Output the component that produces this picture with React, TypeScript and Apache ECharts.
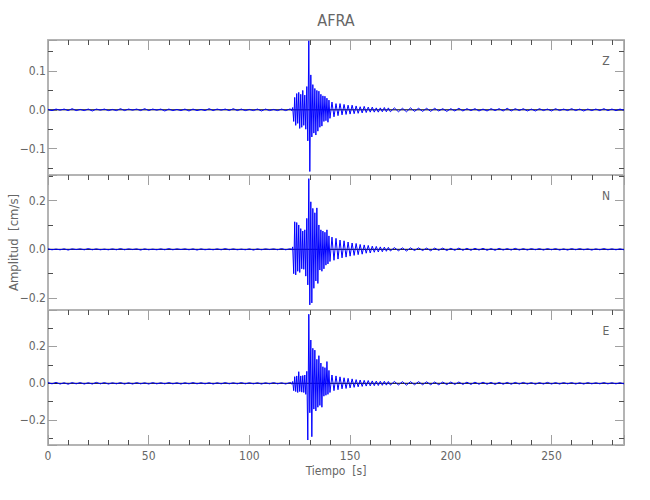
import React, { useEffect, useRef } from 'react';
import * as echarts from 'echarts';

// ---- sample times (s) ----
const T_PRE = [0,2,4,6,8,10,12,14,16,18,20,22,24,26,28,30,32,34,36,38,40,42,44,46,48,50,52,54,56,58,60,62,64,66,68,70,72,74,76,78,80,82,84,86,88,90,92,94,96,98,100,102,104,106,108,110,112,114,116,118,120];
const T_ACT = [120.5,121,121.5,122,122.5,123,123.5,124,124.5,125,125.5,126,126.5,127,127.5,128,128.5,129,129.5,130,130.5,131,131.5,132,132.5,133,133.5,134,134.5,135,135.5,136,136.5,137,137.5,138,138.5,139,139.5,140];
const T_MID = [141,142,143,144,145,146,147,148,149,150,151,152,153,154,155,156,157,158,159,160,161,162,163,164,165,166,167,168,169,170];
const T_LATE = [172,174,176,178,180,182,184,186,188,190,192,194,196,198,200,202,204,206,208,210,212,214,216,218,220,222,224,226,228,230,232,234,236,238,240,242,244,246,248,250,252,254,256,258,260,262,264,266,268,270,272,274,276,278,280,282,284,286];

// ---- Z component (cm/s) ----
const Z_PRE = [0.001,-0.002,0.002,-0.001,0.002,-0.002,0.003,-0.002,0.001,-0.002,0.002,-0.003,0.002,-0.001,0.002,-0.002,0.001,-0.002,0.003,-0.002,0.002,-0.001,0.002,-0.002,0.003,-0.002,0.002,-0.001,0.002,-0.003,0.002,-0.002,0.001,-0.002,0.002,-0.003,0.002,-0.002,0.001,-0.002,0.003,-0.002,0.002,-0.001,0.002,-0.002,0.003,-0.002,0.002,-0.002,0.001,-0.002,0.002,-0.003,0.002,-0.002,0.001,-0.002,0.002,-0.002,0.002];
const Z_ACT = [0.002,-0.002,0.006,-0.030,0.032,-0.040,0.042,-0.035,0.045,-0.048,0.040,-0.045,0.050,-0.040,0.038,-0.050,0.060,-0.080,0.178,-0.159,0.090,-0.070,0.065,-0.060,0.055,-0.065,0.050,-0.055,0.048,-0.045,0.040,-0.042,0.036,-0.030,0.035,-0.028,0.030,-0.032,0.025,-0.022];
const Z_MID = [0.020,-0.018,0.016,-0.015,0.016,-0.013,0.014,-0.012,0.012,-0.011,0.012,-0.010,0.010,-0.009,0.008,-0.008,0.009,-0.007,0.007,-0.006,0.007,-0.006,0.005,-0.006,0.005,-0.005,0.006,-0.005,0.005,-0.005];
const Z_LATE = [0.005,-0.005,0.004,-0.005,0.005,-0.004,0.004,-0.004,0.004,-0.004,0.004,-0.003,0.003,-0.004,0.003,-0.003,0.004,-0.003,0.003,-0.002,0.003,-0.003,0.002,-0.003,0.003,-0.002,0.003,-0.003,0.004,-0.003,0.003,-0.002,0.003,-0.003,0.002,-0.003,0.003,-0.002,0.002,-0.003,0.003,-0.002,0.002,-0.002,0.003,-0.002,0.002,-0.003,0.002,-0.002,0.002,-0.002,0.003,-0.002,0.002,-0.002,0.002,-0.001];

// ---- N component (cm/s) ----
const N_PRE = [0.002,-0.002,0.001,-0.002,0.002,-0.003,0.002,-0.001,0.002,-0.002,0.003,-0.002,0.002,-0.002,0.001,-0.002,0.002,-0.002,0.003,-0.002,0.002,-0.001,0.002,-0.003,0.002,-0.002,0.001,-0.002,0.002,-0.002,0.003,-0.002,0.002,-0.001,0.002,-0.002,0.002,-0.003,0.002,-0.002,0.001,-0.002,0.002,-0.002,0.003,-0.002,0.002,-0.002,0.001,-0.002,0.002,-0.003,0.002,-0.002,0.002,-0.001,0.002,-0.002,0.003,-0.002,0.002];
const N_ACT = [0.002,-0.003,0.010,-0.100,0.113,-0.105,0.110,-0.090,0.100,-0.095,0.085,-0.080,0.075,-0.082,0.080,-0.110,0.127,-0.146,0.290,-0.228,0.195,-0.220,0.168,-0.160,0.150,-0.130,0.170,-0.140,0.100,-0.085,0.080,-0.090,0.075,-0.080,0.070,-0.065,0.080,-0.060,0.055,-0.050];
const N_MID = [0.050,-0.045,0.045,-0.040,0.038,-0.035,0.035,-0.032,0.030,-0.028,0.026,-0.025,0.024,-0.022,0.020,-0.020,0.018,-0.016,0.016,-0.015,0.013,-0.012,0.012,-0.011,0.010,-0.010,0.009,-0.008,0.008,-0.007];
const N_LATE = [0.007,-0.006,0.006,-0.007,0.006,-0.005,0.006,-0.005,0.005,-0.006,0.005,-0.004,0.005,-0.005,0.004,-0.004,0.005,-0.004,0.004,-0.004,0.004,-0.003,0.004,-0.004,0.003,-0.004,0.004,-0.003,0.003,-0.003,0.004,-0.003,0.003,-0.003,0.003,-0.002,0.003,-0.003,0.003,-0.002,0.003,-0.003,0.002,-0.003,0.003,-0.002,0.003,-0.002,0.002,-0.003,0.002,-0.002,0.003,-0.002,0.002,-0.002,0.002,-0.002];

// ---- E component (cm/s) ----
const E_PRE = [0.004,-0.003,0.005,-0.004,0.003,-0.005,0.004,-0.003,0.004,-0.004,0.003,-0.004,0.005,-0.003,0.004,-0.004,0.003,-0.003,0.004,-0.004,0.003,-0.004,0.004,-0.003,0.003,-0.004,0.004,-0.003,0.003,-0.003,0.004,-0.003,0.003,-0.004,0.003,-0.003,0.004,-0.003,0.003,-0.003,0.003,-0.004,0.003,-0.003,0.004,-0.003,0.003,-0.003,0.004,-0.003,0.003,-0.003,0.003,-0.004,0.003,-0.003,0.004,-0.003,0.003,-0.004,0.004];
const E_ACT = [0.004,-0.005,0.010,-0.040,0.036,-0.045,0.040,-0.050,0.063,-0.045,0.040,-0.048,0.042,-0.050,0.045,-0.060,0.065,-0.308,0.375,-0.160,0.235,-0.290,0.190,-0.140,0.180,-0.150,0.130,-0.130,0.150,-0.120,0.110,-0.130,0.090,-0.070,0.085,-0.065,0.118,-0.060,0.070,-0.050];
const E_MID = [0.045,-0.040,0.040,-0.035,0.035,-0.030,0.030,-0.028,0.027,-0.025,0.024,-0.022,0.020,-0.019,0.018,-0.017,0.016,-0.015,0.015,-0.014,0.013,-0.013,0.012,-0.012,0.011,-0.011,0.011,-0.010,0.010,-0.010];
const E_LATE = [0.010,-0.009,0.009,-0.010,0.009,-0.008,0.009,-0.008,0.008,-0.008,0.007,-0.008,0.007,-0.007,0.007,-0.006,0.007,-0.006,0.006,-0.006,0.006,-0.005,0.006,-0.005,0.005,-0.006,0.005,-0.005,0.005,-0.005,0.005,-0.004,0.005,-0.004,0.004,-0.005,0.004,-0.004,0.005,-0.004,0.004,-0.004,0.004,-0.003,0.004,-0.004,0.003,-0.004,0.004,-0.003,0.003,-0.003,0.004,-0.003,0.003,-0.003,0.003,-0.003];

// ---- axes ----
const COMPONENTS = ['Z', 'N', 'E'];
const X_MIN = 0;
const X_MAX = 286;
const X_STEP = 50;
const Y_MIN = [-0.168, -0.249, -0.335];
const Y_MAX = [0.18, 0.305, 0.398];
const Y_STEP = [0.1, 0.2, 0.2];

const TITLE = 'AFRA';
const X_NAME = 'Tiempo  [s]';
const Y_NAME = 'Amplitud  [cm/s]';

const TIME = [...T_PRE, ...T_ACT, ...T_MID, ...T_LATE];
const TRACES = [
  [...Z_PRE, ...Z_ACT, ...Z_MID, ...Z_LATE],
  [...N_PRE, ...N_ACT, ...N_MID, ...N_LATE],
  [...E_PRE, ...E_ACT, ...E_MID, ...E_LATE],
];

const FONT = "'Liberation Sans Narrow', 'DejaVu Sans Condensed', 'Roboto Condensed', sans-serif";
const FRAME = '#b4b4b4';
const MAJOR = '#a0a0a0';
const MINOR = '#505050';
const TEXT = '#666666';

const LEFT = 48;
const RIGHT_EDGE = 624;
const TOPS = [40, 175, 310];
const H = 135;

export default function App() {
  const ref = useRef<HTMLDivElement>(null);
  useEffect(() => {
    if (!ref.current) return;
    const chart = echarts.init(ref.current, undefined, { renderer: 'svg' });
    const grids: any[] = [];
    const xAxes: any[] = [];
    const yAxes: any[] = [];
    const series: any[] = [];
    const graphics: any[] = [];
    const fmt = (v: number) => v.toFixed(1).replace('-', '\u2212');

    for (let i = 0; i < 3; i++) {
      grids.push({ left: LEFT, width: RIGHT_EDGE - LEFT, top: TOPS[i], height: H, containLabel: false });
      const last = i === 2;
      const xBase = {
        type: 'value', gridIndex: i, min: X_MIN, max: X_MAX,
        minInterval: X_STEP, maxInterval: X_STEP,
        splitLine: { show: false },
        axisLine: { show: true, onZero: false, lineStyle: { color: FRAME, width: 2 } },
      };
      xAxes.push({
        ...xBase, position: 'bottom',
        axisTick: { show: last, inside: true, length: 10, lineStyle: { color: MAJOR, width: 1 } },
        minorTick: { show: last, splitNumber: 5, length: 5, lineStyle: { color: MINOR, width: 1 } },
        axisLabel: { show: last, margin: 5, color: TEXT, fontSize: 12, fontFamily: FONT, showMaxLabel: false, showMinLabel: true },
      });
      xAxes.push({
        ...xBase, position: 'top',
        axisTick: { show: true, inside: true, length: 10, lineStyle: { color: MAJOR, width: 1 } },
        minorTick: { show: true, splitNumber: 5, length: 5, lineStyle: { color: MINOR, width: 1 } },
        axisLabel: { show: false },
      });
      const yBase = {
        type: 'value', gridIndex: i, min: Y_MIN[i], max: Y_MAX[i],
        minInterval: Y_STEP[i], maxInterval: Y_STEP[i],
        splitLine: { show: false },
        axisLine: { show: true, onZero: false, lineStyle: { color: FRAME, width: 2 } },
        axisTick: { show: true, inside: true, length: 9, lineStyle: { color: MAJOR, width: 1 } },
        minorTick: { show: true, splitNumber: 2, length: 5, lineStyle: { color: MINOR, width: 1 } },
      };
      yAxes.push({
        ...yBase, position: 'left',
        axisLabel: { show: true, margin: 2, color: TEXT, fontSize: 12, fontFamily: FONT, showMinLabel: false, showMaxLabel: false, formatter: fmt },
      });
      yAxes.push({ ...yBase, position: 'right', axisLabel: { show: false } });

      series.push({
        type: 'line', xAxisIndex: 2 * i, yAxisIndex: 2 * i, z: 1,
        data: [[X_MIN, 0], [X_MAX, 0]], symbol: 'none', silent: true,
        lineStyle: { color: '#000000', width: 1 },
      });
      series.push({
        type: 'line', xAxisIndex: 2 * i, yAxisIndex: 2 * i, z: 2,
        data: TIME.map((t, k) => [t, TRACES[i][k]]),
        symbol: 'none', silent: true,
        lineStyle: { color: '#0000ff', width: 1 },
      });

      graphics.push({
        type: 'text', x: 606, y: TOPS[i] + 21,
        style: { text: COMPONENTS[i], fill: TEXT, fontSize: 12, fontFamily: FONT, textAlign: 'center', textVerticalAlign: 'middle' },
      });
    }

    graphics.push({
      type: 'text', x: (LEFT + RIGHT_EDGE) / 2, y: 20,
      style: { text: TITLE, fill: TEXT, fontSize: 16, fontFamily: FONT, textAlign: 'center', textVerticalAlign: 'middle' },
    });
    graphics.push({
      type: 'text', x: (LEFT + RIGHT_EDGE) / 2, y: 471,
      style: { text: X_NAME, fill: TEXT, fontSize: 12, fontFamily: FONT, textAlign: 'center', textVerticalAlign: 'middle' },
    });
    graphics.push({
      type: 'text', x: 13, y: TOPS[1] + H / 2, rotation: Math.PI / 2,
      style: { text: Y_NAME, fill: TEXT, fontSize: 13, fontFamily: FONT, textAlign: 'center', textVerticalAlign: 'middle' },
    });

    chart.setOption({
      animation: false,
      backgroundColor: '#ffffff',
      grid: grids,
      xAxis: xAxes,
      yAxis: yAxes,
      series,
      graphic: graphics,
    });
    return () => chart.dispose();
  }, []);
  return <div ref={ref} style={{ position: 'absolute', left: 0, top: 0, width: 650, height: 500 }} />;
}
